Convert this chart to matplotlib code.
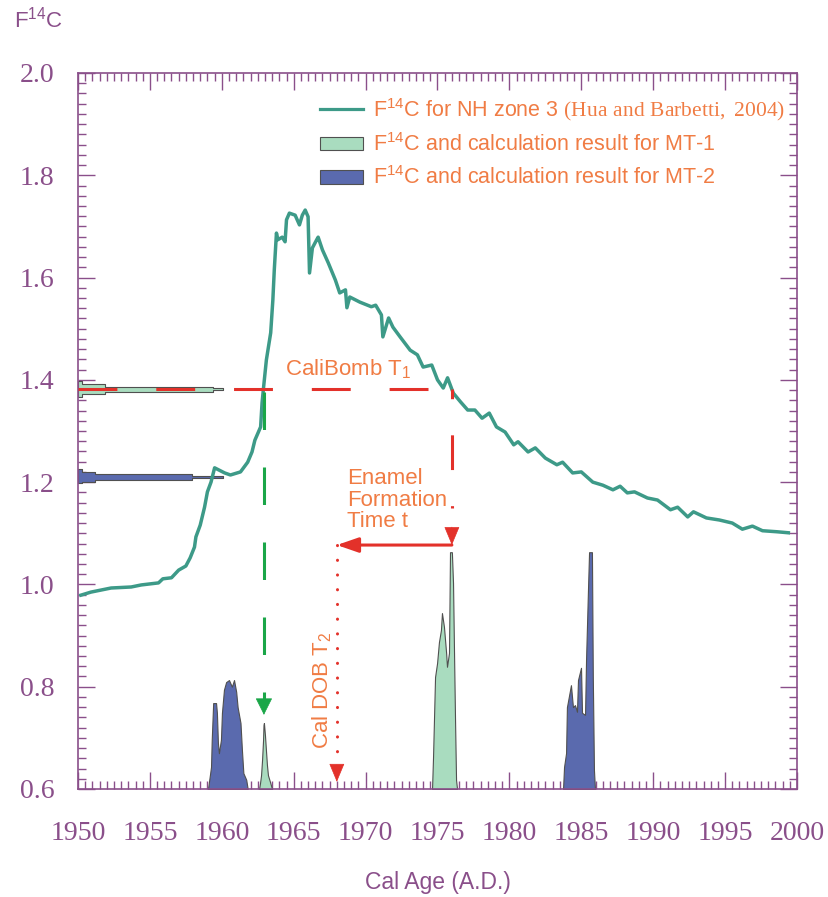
import numpy as np
import matplotlib
matplotlib.use('Agg')
import matplotlib.pyplot as plt
from matplotlib.ticker import MultipleLocator, FormatStrFormatter
from matplotlib.patches import Patch
from matplotlib.lines import Line2D

plt.rcParams['mathtext.fontset'] = 'custom'
plt.rcParams['mathtext.rm'] = 'Liberation Sans'
plt.rcParams['mathtext.it'] = 'Liberation Sans:italic'
plt.rcParams['mathtext.sf'] = 'Liberation Serif'
plt.rcParams['lines.scale_dashes'] = False

# F14C for NH zone 3 (Hua and Barbetti, 2004)
nh3_year = [1950.2, 1950.9, 1952.3, 1953.7, 1954.4, 1955.6, 1955.9, 1956.5, 1957.0, 1957.5,
            1957.8, 1958.1, 1958.2, 1958.5, 1958.8, 1959.0, 1959.25, 1959.5, 1960.2, 1960.6,
            1961.3, 1961.8, 1962.1, 1962.3, 1962.7, 1962.8, 1962.9, 1963.1, 1963.4, 1963.55,
            1963.65, 1963.8, 1963.9, 1964.2, 1964.4, 1964.5, 1964.7, 1965.1, 1965.4, 1965.6,
            1965.8, 1966.0, 1966.1, 1966.3, 1966.6, 1966.7, 1967.0, 1967.4, 1967.9, 1968.2,
            1968.6, 1968.7, 1968.9, 1969.6, 1970.4, 1970.7, 1971.1, 1971.2, 1971.6, 1971.9,
            1972.4, 1973.1, 1973.6, 1974.0, 1974.6, 1975.0, 1975.4, 1975.7, 1976.1, 1976.6,
            1977.1, 1977.6, 1978.1, 1978.6, 1979.1, 1979.7, 1980.3, 1980.6, 1981.3, 1981.8,
            1982.5, 1983.3, 1983.7, 1984.4, 1985.0, 1985.8, 1986.5, 1987.2, 1987.7, 1988.2,
            1988.7, 1989.6, 1990.3, 1991.2, 1991.7, 1992.4, 1992.8, 1993.7, 1994.6, 1995.5,
            1996.2, 1996.9, 1997.6, 1998.6, 1999.4]
nh3_f = [0.979, 0.985, 0.993, 0.995, 0.999, 1.003, 1.011, 1.013, 1.028, 1.036,
         1.052, 1.073, 1.093, 1.116, 1.151, 1.181, 1.200, 1.228, 1.218, 1.214,
         1.220, 1.239, 1.259, 1.282, 1.308, 1.355, 1.384, 1.439, 1.492, 1.556,
         1.615, 1.687, 1.674, 1.679, 1.670, 1.713, 1.726, 1.722, 1.703, 1.722,
         1.732, 1.719, 1.609, 1.658, 1.674, 1.679, 1.654, 1.629, 1.595, 1.570,
         1.576, 1.541, 1.562, 1.552, 1.543, 1.546, 1.527, 1.484, 1.521, 1.503,
         1.484, 1.458, 1.449, 1.425, 1.429, 1.400, 1.384, 1.404, 1.374, 1.357,
         1.341, 1.341, 1.325, 1.335, 1.308, 1.298, 1.273, 1.279, 1.259, 1.267,
         1.247, 1.234, 1.239, 1.218, 1.220, 1.200, 1.194, 1.185, 1.192, 1.179,
         1.181, 1.169, 1.165, 1.146, 1.151, 1.132, 1.142, 1.130, 1.126, 1.120,
         1.108, 1.114, 1.105, 1.103, 1.101]

# measured F14C distributions (horizontal, extent in years from 1950)
mt1_f = [1.367, 1.371, 1.375, 1.379, 1.382, 1.385, 1.389, 1.393, 1.397]
mt1_len = [0.3, 0.3, 1.9, 9.4, 10.1, 9.4, 1.9, 0.3, 0.3]
mt2_f = [1.199, 1.203, 1.207, 1.210, 1.213, 1.217, 1.221, 1.225]
mt2_len = [0.3, 1.2, 7.9, 10.1, 7.9, 1.2, 0.3, 0.3]

# calibrated age distributions (vertical)
mt2a_yr = [1959.04, 1959.25, 1959.30, 1959.40, 1959.60, 1959.66, 1959.73, 1959.80, 1959.94, 1960.01,
           1960.15, 1960.30, 1960.50, 1960.70, 1960.85, 1961.00, 1961.10, 1961.30, 1961.40, 1961.50,
           1961.70, 1961.80]
mt2a_f = [0.600, 0.643, 0.696, 0.768, 0.768, 0.749, 0.690, 0.670, 0.696, 0.749,
          0.794, 0.809, 0.813, 0.800, 0.813, 0.790, 0.760, 0.729, 0.676, 0.631,
          0.618, 0.600]
mt1a_yr = [1962.59, 1962.66, 1962.73, 1962.80, 1962.87, 1962.90, 1962.93, 1963.00, 1963.07, 1963.14,
           1963.21, 1963.35, 1963.49]
mt1a_f = [0.600, 0.612, 0.627, 0.657, 0.696, 0.725, 0.729, 0.706, 0.676, 0.647,
          0.627, 0.614, 0.600]
mt1b_yr = [1974.62, 1974.69, 1974.83, 1974.97, 1975.10, 1975.24, 1975.31, 1975.45, 1975.60, 1975.66,
           1975.80, 1975.87, 1976.00, 1976.08, 1976.15, 1976.22, 1976.29, 1976.36]
mt1b_f = [0.600, 0.663, 0.819, 0.846, 0.887, 0.911, 0.944, 0.917, 0.866, 0.839,
          0.866, 1.063, 1.063, 1.003, 0.866, 0.735, 0.618, 0.600]
mt2b_yr = [1983.73, 1983.80, 1983.94, 1984.00, 1984.28, 1984.42, 1984.56, 1984.70, 1984.77, 1984.98,
           1985.05, 1985.26, 1985.33, 1985.47, 1985.54, 1985.74, 1985.80, 1985.88, 1985.95]
mt2b_f = [0.600, 0.643, 0.670, 0.760, 0.803, 0.760, 0.764, 0.751, 0.813, 0.837,
          0.749, 0.745, 0.852, 0.995, 1.063, 1.063, 0.819, 0.637, 0.600]

# annotation values
f_t1 = 1.382       # measured F14C of MT-1
t1_bomb = 1962.93  # CaliBomb T1 on the rising limb
t1_form = 1976.0   # on the falling limb
t2_dob = 1968.0
f_arrow = 1.077

purple = '#8a4f8a'
teal = '#3d9a88'
mint = '#a9dcbf'
blue = '#5a6aae'
edge = '#505050'
red = '#e3312a'
green = '#1aa648'
orange = '#f07c44'

fig = plt.figure(figsize=(8.29, 8.97), dpi=100)
ax = fig.add_axes([78/829, 108/897, 719/829, 716/897])

# horizontal F14C distributions
ax.fill_betweenx(mt1_f, 1950, [1950 + v for v in mt1_len], step='mid',
                 facecolor=mint, edgecolor=edge, lw=0.8, zorder=2)
ax.fill_betweenx(mt2_f, 1950, [1950 + v for v in mt2_len], step='mid',
                 facecolor=blue, edgecolor=edge, lw=0.8, zorder=2)

# calibrated distributions
ax.fill_between(mt2a_yr, 0.6, mt2a_f, facecolor=blue, edgecolor=edge, lw=0.8, zorder=2)
ax.fill_between(mt2b_yr, 0.6, mt2b_f, facecolor=blue, edgecolor=edge, lw=0.8, zorder=2)
ax.fill_between(mt1a_yr, 0.6, mt1a_f, facecolor=mint, edgecolor=edge, lw=0.8, zorder=2)
ax.fill_between(mt1b_yr, 0.6, mt1b_f, facecolor=mint, edgecolor=edge, lw=0.8, zorder=2)

# curve
ax.plot(nh3_year, nh3_f, color=teal, lw=2.5, zorder=3)

# red dashed horizontal + vertical
ax.plot([1950, t1_form], [f_t1, f_t1], color=red, lw=2.2,
        linestyle=(0, (28, 28)), dash_capstyle='butt', zorder=4)
ax.plot([t1_form, t1_form], [f_t1, 1.149], color=red, lw=2.2,
        linestyle=(18, (25, 26)), dash_capstyle='butt', zorder=4)
ax.annotate('', xy=(t1_form, f_arrow), xytext=(t1_form, 1.112),
            arrowprops=dict(arrowstyle='-|>,head_length=1.2,head_width=0.5',
                            mutation_scale=10, color=red, lw=0.5,
                            shrinkA=0, shrinkB=0), zorder=5)

# horizontal arrow (enamel formation time)
ax.annotate('', xy=(t2_dob, f_arrow), xytext=(t1_form, f_arrow),
            arrowprops=dict(arrowstyle='-|>,head_length=1.3,head_width=0.45',
                            mutation_scale=10, color=red, lw=2.2,
                            shrinkA=0, shrinkB=0), zorder=5)

# dotted DOB line
ax.plot([t2_dob, t2_dob], [f_arrow, 0.655], color=red, lw=2.2,
        linestyle=(0, (0.1, 10.5)), dash_capstyle='round', zorder=4)
ax.annotate('', xy=(t2_dob, 0.614), xytext=(t2_dob, 0.647),
            arrowprops=dict(arrowstyle='-|>,head_length=1.2,head_width=0.5',
                            mutation_scale=10, color=red, lw=0.5,
                            shrinkA=0, shrinkB=0), zorder=5)

# green dashed CaliBomb line
ax.plot([t1_bomb, t1_bomb], [1.376, 0.768], color=green, lw=2.2,
        linestyle=(0, (27, 27)), dash_capstyle='butt', zorder=4)
ax.annotate('', xy=(t1_bomb, 0.745), xytext=(t1_bomb, 0.772),
            arrowprops=dict(arrowstyle='-|>,head_length=1.1,head_width=0.55',
                            mutation_scale=10, color=green, lw=0.5,
                            shrinkA=0, shrinkB=0), zorder=5)

# annotation texts
ax.text(1964.4, 1.408, r'CaliBomb T$_{1}$', color=orange, fontsize=16,
        family='Liberation Sans', va='baseline', ha='left', zorder=6)
ax.text(1968.7, 1.228, 'Enamel\nFormation\nTime t', color=orange, fontsize=16,
        family='Liberation Sans', va='top', ha='left', linespacing=1.05, zorder=6)
ax.text(1966.97, 0.794, r'Cal DOB T$_{2}$', color=orange, fontsize=16,
        family='Liberation Sans', rotation=90, va='center', ha='center', zorder=6)

# axes styling
ax.set_xlim(1950, 2000)
ax.set_ylim(0.6, 2.0)
ax.xaxis.set_major_locator(MultipleLocator(5))
ax.xaxis.set_minor_locator(MultipleLocator(0.5))
ax.yaxis.set_major_locator(MultipleLocator(0.2))
ax.yaxis.set_minor_locator(MultipleLocator(0.02))
ax.yaxis.set_major_formatter(FormatStrFormatter('%.1f'))
ax.tick_params(which='both', direction='in', top=True, right=True,
               color=purple, labelcolor=purple, width=1.0)
ax.tick_params(which='major', length=12)
ax.tick_params(which='minor', length=6)
ax.tick_params(axis='x', pad=23)
ax.tick_params(axis='y', pad=17)
for lbl in ax.get_xticklabels() + ax.get_yticklabels():
    lbl.set_family('Liberation Serif')
    lbl.set_fontsize(20)
for s in ax.spines.values():
    s.set_color(purple)
    s.set_linewidth(1.2)

fig.text(437.5/829, 1 - 882/897, 'Cal Age (A.D.)', color=purple, fontsize=16.5,
         family='Liberation Sans', ha='center', va='center')
fig.text(14/829, 1 - 20/897, r'F$^{14}$C', color=purple, fontsize=16,
         family='Liberation Sans', ha='left', va='center')

# legend
handles = [Line2D([], [], color=teal, lw=2.3),
           Patch(facecolor=mint, edgecolor=edge, lw=0.8),
           Patch(facecolor=blue, edgecolor=edge, lw=0.8)]
labels = [r'F$^{14}$C for NH zone 3 $\mathsf{(Hua\ and\ Barbetti,\ 2004)}$',
          r'F$^{14}$C and calculation result for MT-1',
          r'F$^{14}$C and calculation result for MT-2']
leg = ax.legend(handles, labels, loc='upper left', bbox_to_anchor=(0.337, 0.968),
                frameon=False, borderpad=0, borderaxespad=0, handlelength=2.0,
                handleheight=0.6, handletextpad=0.45, labelspacing=0.48,
                prop={'family': 'Liberation Sans', 'size': 15.5})
for t in leg.get_texts():
    t.set_color(orange)

fig.savefig('out.png', dpi=100)
